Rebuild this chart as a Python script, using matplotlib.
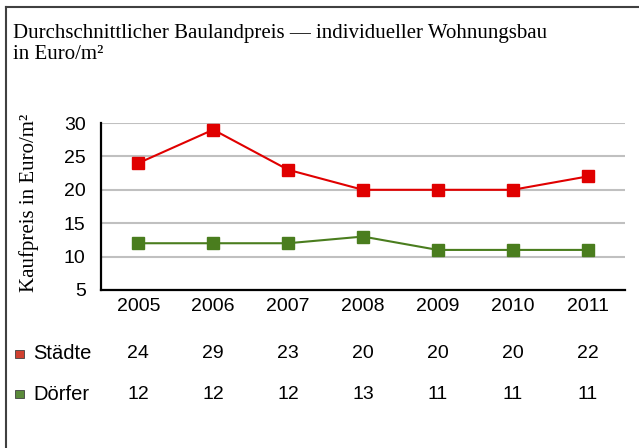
import matplotlib
matplotlib.use('Agg')
import matplotlib.pyplot as plt
from matplotlib.lines import Line2D

years = ['2005', '2006', '2007', '2008', '2009', '2010', '2011']
staedte = [24, 29, 23, 20, 20, 20, 22]
doerfer = [12, 12, 12, 13, 11, 11, 11]
series_names = ['Städte', 'Dörfer']
y_ticks = [5, 10, 15, 20, 25, 30]

title = 'Durchschnittlicher Baulandpreis \u2014 individueller Wohnungsbau\nin Euro/m\u00b2'
y_label = 'Kaufpreis in Euro/m\u00b2'

red = '#e00000'
green = '#4a7d1e'
sans = 'Liberation Sans'
serif = 'Liberation Serif'

fig = plt.figure(figsize=(6.39, 4.48), dpi=100)
ax_l, ax_b, ax_w, ax_h = 0.158, 0.3527, 0.820, 0.3727
ax = fig.add_axes([ax_l, ax_b, ax_w, ax_h])

x = list(range(len(years)))
ax.plot(x, staedte, color=red, lw=1.5, marker='s', ms=9, mec=red, zorder=3)
ax.plot(x, doerfer, color=green, lw=1.5, marker='s', ms=9, mec=green, zorder=3)

ax.set_xlim(-0.5, len(years) - 0.5)
ax.set_ylim(5, 30)
ax.set_yticks(y_ticks)
ax.set_xticks(x)
ax.set_xticklabels(years)
for lab in ax.get_xticklabels() + ax.get_yticklabels():
    lab.set_fontfamily(sans)
    lab.set_fontsize(14)
ax.tick_params(axis='both', length=0, colors='black')
ax.tick_params(axis='y', pad=11)
ax.tick_params(axis='x', pad=6)

ax.grid(axis='y', color='#c0c0c0', lw=1.5, zorder=0)
ax.set_axisbelow(True)
for side in ['top', 'right']:
    ax.spines[side].set_visible(False)
for side in ['left', 'bottom']:
    ax.spines[side].set_linewidth(1.6)
    ax.spines[side].set_color('black')

ax.set_ylabel(y_label, fontfamily=serif, fontsize=15)
ax.yaxis.set_label_coords(-0.119, 0.52)

fig.text(13 / 639, 1 - 24 / 448, title, fontfamily=serif, fontsize=15,
         va='top', ha='left', linespacing=1.12)

# data table below the chart
trans = ax.get_xaxis_transform()
rows = [(series_names[0], staedte, '#d04030', -0.383),
        (series_names[1], doerfer, '#5a8a3a', -0.623)]
for name, vals, col, yy in rows:
    y_fig = ax_b + yy * ax_h
    fig.patches.append(plt.Rectangle((15 / 639, y_fig - 4 / 448),
                                     9 / 639, 8 / 448,
                                     transform=fig.transFigure, fc=col,
                                     ec='#404040', lw=0.6))
    fig.text(33 / 639, y_fig, name, fontfamily=sans, fontsize=14.5,
             va='center', ha='left')
    for xi, v in zip(x, vals):
        ax.text(xi, yy, str(v), transform=trans, fontfamily=sans,
                fontsize=14, va='center', ha='center', clip_on=False)

# outer frame (top and left edges only visible)
fig.add_artist(Line2D([6 / 639, 6 / 639], [0, 1 - 7 / 448],
                      transform=fig.transFigure, color='#404040', lw=1.5))
fig.add_artist(Line2D([6 / 639, 1], [1 - 7 / 448, 1 - 7 / 448],
                      transform=fig.transFigure, color='#404040', lw=1.5))

fig.savefig('out.png', dpi=100)
